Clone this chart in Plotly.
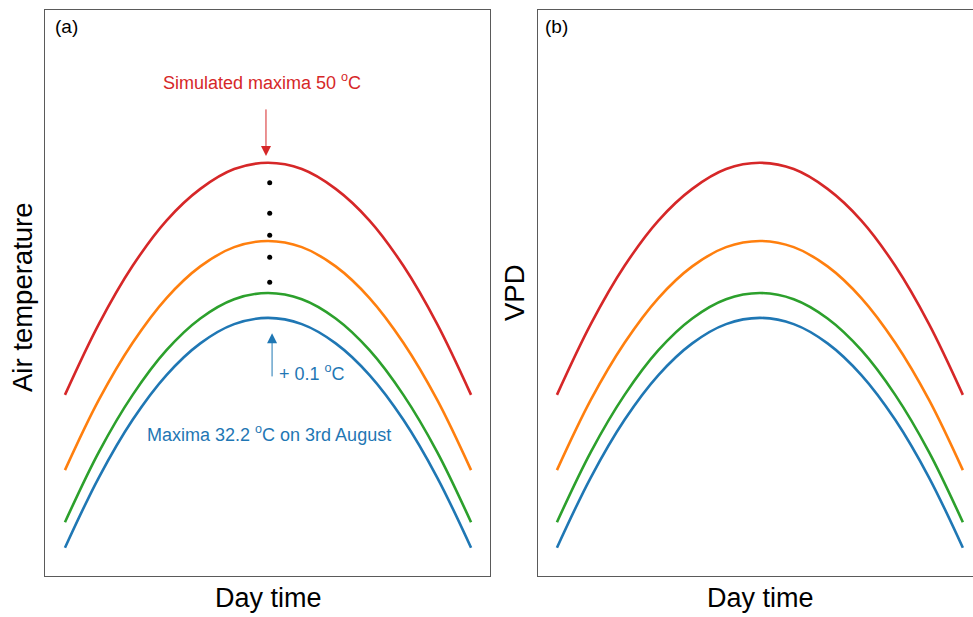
import plotly.graph_objects as go

# Hours of the day-time window (arbitrary units, no tick labels shown)
hours = [0, 1, 2, 3, 4, 5, 6, 7, 8, 9, 10, 11, 12]

# Air temperature curves (arbitrary units)
red_vals    = [32.0, 44.5, 54.8, 62.8, 68.4, 71.9, 73.0, 71.9, 68.4, 62.8, 54.8, 44.5, 32.0]
orange_vals = [18.7, 31.1, 41.2, 49.1, 54.7, 58.1, 59.2, 58.1, 54.7, 49.1, 41.2, 31.1, 18.7]
green_vals  = [9.5, 21.9, 32.0, 39.9, 45.5, 48.9, 50.0, 48.9, 45.5, 39.9, 32.0, 21.9, 9.5]
blue_vals   = [5.0, 17.4, 27.6, 35.5, 41.1, 44.5, 45.6, 44.5, 41.1, 35.5, 27.6, 17.4, 5.0]

# VPD curves (visually identical shape)
vpd_red    = red_vals
vpd_orange = orange_vals
vpd_green  = green_vals
vpd_blue   = blue_vals

# Dotted steps between scenarios
dot_x = [6.05, 6.05, 6.05, 6.05, 6.05]
dot_y = [69.5, 64.1, 60.2, 56.3, 51.9]

colors = ["#d62728", "#ff7f0e", "#2ca02c", "#1f77b4"]

fig = go.Figure()

for vals, c in zip([red_vals, orange_vals, green_vals, blue_vals], colors):
    fig.add_trace(go.Scatter(x=hours, y=vals, mode="lines",
                             line=dict(color=c, width=2.6, shape="spline"),
                             xaxis="x", yaxis="y", showlegend=False, hoverinfo="skip"))
for vals, c in zip([vpd_red, vpd_orange, vpd_green, vpd_blue], colors):
    fig.add_trace(go.Scatter(x=hours, y=vals, mode="lines",
                             line=dict(color=c, width=2.6, shape="spline"),
                             xaxis="x2", yaxis="y2", showlegend=False, hoverinfo="skip"))

fig.add_trace(go.Scatter(x=dot_x, y=dot_y, mode="markers",
                         marker=dict(color="black", size=5),
                         xaxis="x", yaxis="y", showlegend=False, hoverinfo="skip"))

W, H = 973, 617
ml, mr, mt, mb = 45, 0, 10, 41
pw = W - ml - mr

axis_common = dict(showgrid=False, zeroline=False, showticklabels=False, ticks="",
                   showline=True, linecolor="#5a5a5a", linewidth=1)

fig.update_layout(
    width=W, height=H,
    margin=dict(l=ml, r=mr, t=mt, b=mb),
    paper_bgcolor="white", plot_bgcolor="white",
    font=dict(family="Liberation Sans, Arial, sans-serif", color="black"),
    xaxis=dict(domain=[0, 445 / pw], range=[-0.59, 12.56], mirror=True, **axis_common),
    yaxis=dict(domain=[0, 1], range=[0, 100], mirror=True, **axis_common),
    xaxis2=dict(domain=[493 / pw, 1], range=[-0.56, 12.30], mirror=True, anchor="y2", **axis_common),
    yaxis2=dict(domain=[0, 1], range=[0, 100], mirror=False, anchor="x2", **axis_common),
)

ann = []
# Panel labels
ann.append(dict(text="(a)", xref="paper", yref="paper", x=(53 - ml) / pw, y=1 - (27 - mt) / 566,
                xanchor="left", yanchor="middle", showarrow=False, font=dict(size=19)))
ann.append(dict(text="(b)", xref="paper", yref="paper", x=(543 - ml) / pw, y=1 - (27 - mt) / 566,
                xanchor="left", yanchor="middle", showarrow=False, font=dict(size=19)))
# Axis titles
ann.append(dict(text="Air temperature", xref="paper", yref="paper", x=(22 - ml) / pw, y=(576 - 297) / 566,
                xanchor="center", yanchor="middle", textangle=-90, showarrow=False, font=dict(size=27.5)))
ann.append(dict(text="VPD", xref="paper", yref="paper", x=(514 - ml) / pw, y=(576 - 293) / 566,
                xanchor="center", yanchor="middle", textangle=-90, showarrow=False, font=dict(size=27.5)))
ann.append(dict(text="Day time", xref="paper", yref="paper", x=(268 - ml) / pw, y=-(598 - 576) / 566,
                xanchor="center", yanchor="middle", showarrow=False, font=dict(size=27)))
ann.append(dict(text="Day time", xref="paper", yref="paper", x=(760 - ml) / pw, y=-(598 - 576) / 566,
                xanchor="center", yanchor="middle", showarrow=False, font=dict(size=27)))
# Red annotation
ann.append(dict(text="Simulated maxima 50 <sup>o</sup>C", xref="x", yref="y", x=5.82, y=87.3,
                xanchor="center", yanchor="middle", showarrow=False, font=dict(size=18, color="#d62728")))
ann.append(dict(text="", xref="x", yref="y", x=5.94, y=74.2, ax=5.94, ay=82.7, axref="x", ayref="y",
                showarrow=True, arrowhead=2, arrowsize=2.0, arrowwidth=1, arrowcolor="#d62728"))
# Blue annotations
ann.append(dict(text="", xref="x", yref="y", x=6.12, y=42.9, ax=6.12, ay=35.0, axref="x", ayref="y",
                showarrow=True, arrowhead=2, arrowsize=2.0, arrowwidth=1, arrowcolor="#1f77b4"))
ann.append(dict(text="+ 0.1 <sup>o</sup>C", xref="x", yref="y", x=6.28, y=36.0,
                xanchor="left", yanchor="middle", showarrow=False, font=dict(size=18, color="#1f77b4")))
ann.append(dict(text="Maxima 32.2 <sup>o</sup>C on 3rd August", xref="x", yref="y", x=6.03, y=25.1,
                xanchor="center", yanchor="middle", showarrow=False, font=dict(size=18, color="#1f77b4")))

fig.update_layout(annotations=ann)
fig.write_html("out.html", config={"displayModeBar": False},
               post_script="document.body.style.margin='0';document.body.style.overflow='hidden';")
